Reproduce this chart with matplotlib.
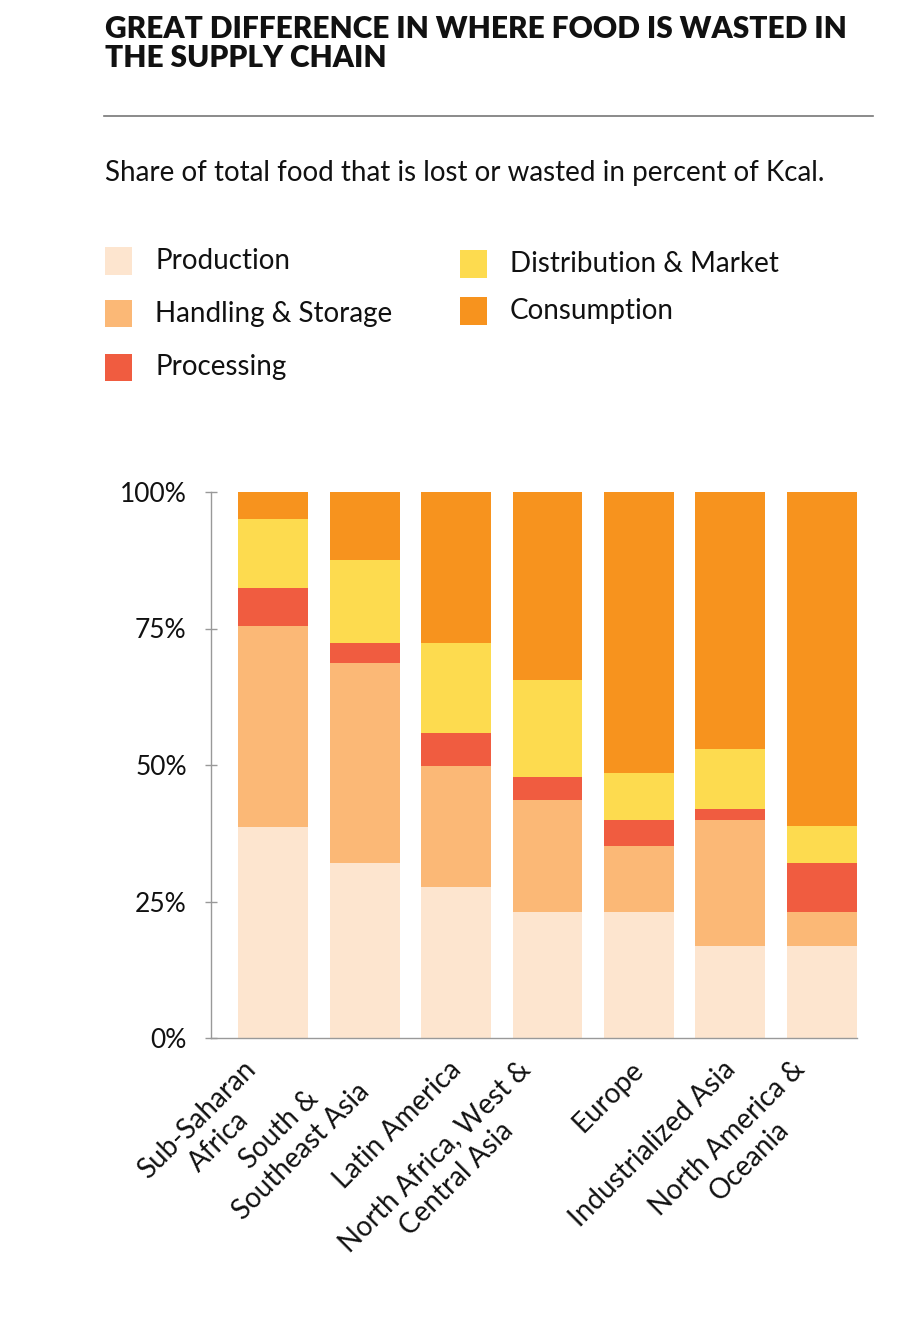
import matplotlib
matplotlib.use('Agg')
import matplotlib.pyplot as plt
import matplotlib.transforms as mtransforms
from matplotlib.patches import Rectangle
import numpy as np

plt.rcParams['font.family'] = ['Lato', 'DejaVu Sans']

# ---- data (share of kcal lost, %) ----
regions = ['Sub-Saharan\nAfrica', 'South &\nSoutheast Asia', 'Latin America',
           'North Africa, West &\nCentral Asia', 'Europe', 'Industrialized Asia',
           'North America &\nOceania']
stages = ['Production', 'Handling & Storage', 'Processing',
          'Distribution & Market', 'Consumption']
production = [38.6, 32.1, 27.7, 23.0, 23.0, 16.8, 16.8]
handling = [36.8, 36.6, 22.2, 20.6, 12.1, 23.2, 6.2]
processing = [7.1, 3.6, 5.9, 4.2, 4.9, 2.0, 9.1]
distribution = [12.6, 15.2, 16.5, 17.7, 8.5, 10.9, 6.7]
consumption = [4.9, 12.5, 27.7, 34.5, 51.5, 47.1, 61.2]
colors = ['#FDE5CF', '#FBB876', '#F05C40', '#FDDB4F', '#F7931E']

series = [production, handling, processing, distribution, consumption]

W, H = 900, 1320
fig = plt.figure(figsize=(9, 13.2), dpi=100, facecolor='white')

# ---- header ----
fig.text(105 / W, 1 - 38 / H, 'GREAT DIFFERENCE IN WHERE FOOD IS WASTED IN',
         fontsize=21.5, fontweight='heavy', color='#111111', va='baseline')
fig.text(105 / W, 1 - 67 / H, 'THE SUPPLY CHAIN',
         fontsize=21.5, fontweight='heavy', color='#111111', va='baseline')
fig.add_artist(plt.Line2D([104 / W, 873 / W], [1 - 116 / H, 1 - 116 / H],
                          color='#777777', lw=1.2))
fig.text(105 / W, 1 - 181 / H,
         'Share of total food that is lost or wasted in percent of Kcal.',
         fontsize=20, color='#111111', va='baseline')

# ---- legend (manual, two columns) ----
leg_pos = [(105, 261), (105, 314), (105, 367), (460, 264), (460, 311)]
for (lx, ly), name, c in zip(leg_pos, stages, colors):
    fig.add_artist(Rectangle((lx / W, 1 - (ly + 13.5) / H), 27 / W, 27 / H,
                             facecolor=c, edgecolor='none'))
    fig.text((lx + 50) / W, 1 - ly / H, name, fontsize=20,
             color='#111111', va='center')

# ---- chart ----
ax = fig.add_axes([211 / W, 282 / H, 646 / W, 546 / H])
x = np.arange(len(regions))
bottom = np.zeros(len(regions))
for vals, c, name in zip(series, colors, stages):
    ax.bar(x, vals, bottom=bottom, width=0.765, color=c, label=name,
           edgecolor='none')
    bottom += np.array(vals)

ax.set_xlim(-0.678, 6.383)
ax.set_ylim(0, 100)
ax.set_yticks([0, 25, 50, 75, 100])
ax.set_yticklabels(['0%', '25%', '50%', '75%', '100%'])
ax.tick_params(axis='y', direction='inout', length=9, width=1,
               color='#999999', pad=13, labelsize=19, labelcolor='#111111')
ax.set_xticks(x)
ax.set_xticklabels(regions, rotation=45, ha='right', rotation_mode='default',
                   multialignment='center', linespacing=1.25)
ax.tick_params(axis='x', length=0, pad=13, labelsize=20, labelcolor='#111111')
shift = mtransforms.ScaledTranslation(10 / 100, 0, fig.dpi_scale_trans)
for lab in ax.get_xticklabels():
    lab.set_transform(lab.get_transform() + shift)
for s in ['top', 'right']:
    ax.spines[s].set_visible(False)
for s in ['left', 'bottom']:
    ax.spines[s].set_color('#999999')
    ax.spines[s].set_linewidth(1)
ax.set_facecolor('white')

plt.savefig('out.png', dpi=100, facecolor='white')
